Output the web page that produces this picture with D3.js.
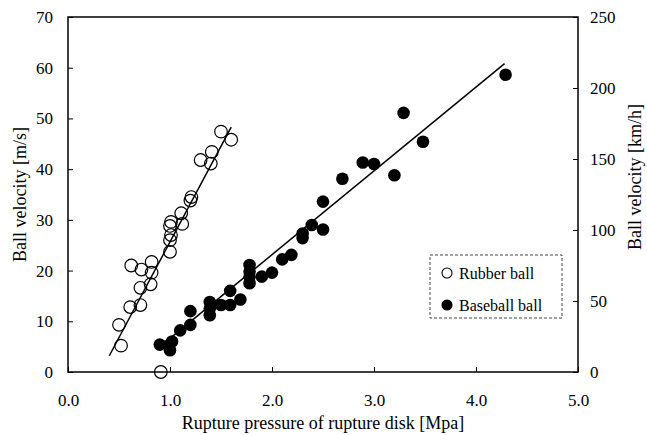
<!DOCTYPE html>
<html>
<head>
<meta charset="utf-8">
<script src="https://cdn.jsdelivr.net/npm/d3@7"></script>
<style>
  body { margin: 0; background: #fff; }
  svg text { font-family: Liberation Serif; }
</style>
</head>
<body>
<svg></svg>
<script>
// rubber ball points [pressure MPa, velocity m/s]
let rubberX = [0.52, 0.50, 0.61, 0.71, 0.71, 0.81, 0.62, 0.72, 0.82, 0.82, 1.00, 1.00, 1.01, 1.00, 1.01, 1.11, 1.12, 1.20, 1.21, 1.30, 1.41, 1.40, 1.50, 1.60, 0.91]
let rubberY = [5.2, 9.3, 12.8, 13.2, 16.6, 17.3, 21.0, 20.2, 21.7, 19.6, 23.7, 26.0, 27.0, 28.8, 29.6, 31.3, 29.2, 33.8, 34.5, 41.8, 43.4, 41.1, 47.4, 45.8, 0]

// baseball ball points
let baseX = [0.90, 0.99, 1.00, 1.02, 1.10, 1.20, 1.20, 1.39, 1.39, 1.39, 1.50, 1.59, 1.59, 1.69, 1.78, 1.78, 1.78, 1.78, 1.90, 2.00, 2.10, 2.19, 2.30, 2.30, 2.39, 2.50, 2.50, 2.69, 2.89, 3.00, 3.20, 3.29, 3.48, 4.29]
let baseY = [5.4, 5.3, 4.3, 6.0, 8.2, 9.3, 12.0, 13.8, 12.5, 11.2, 13.2, 13.2, 16.0, 14.3, 21.1, 19.8, 18.8, 17.5, 18.8, 19.6, 22.2, 23.1, 26.4, 27.3, 29.0, 28.1, 33.6, 38.1, 41.3, 41.0, 38.8, 51.1, 45.4, 58.6]

// fitted lines, read as end points
let rubberFitX = [0.405, 1.60]
let rubberFitY = [3.2, 48.3]
let baseFitX = [0.92, 4.28]
let baseFitY = [5.3, 60.8]

let xTicks = [0, 1, 2, 3, 4, 5]
let leftTicks = [0, 10, 20, 30, 40, 50, 60, 70]
let rightTicks = [0, 50, 100, 150, 200, 250]

let width = 647
let height = 435
let padLeft = 68
let padRight = 578
let padTop = 17
let padBottom = 372
let serif = 'Liberation Serif'

let svg = d3.select('svg').attr('width', width).attr('height', height)

let xScale = d3.scaleLinear().domain([0, 5]).range([padLeft, padRight])
let yScale = d3.scaleLinear().domain([0, 70]).range([padBottom, padTop])
let y2Scale = d3.scaleLinear().domain([0, 250]).range([padBottom, padTop])

// frame
svg.append('rect')
   .attr('x', padLeft).attr('y', padTop)
   .attr('width', padRight - padLeft).attr('height', padBottom - padTop)
   .attr('fill', 'none').attr('stroke', '#000').attr('stroke-width', 1.5)

let styleAxis = (g) => {
    g.attr('font-family', serif)
    g.select('.domain').remove()
    g.selectAll('line').attr('stroke', '#000').attr('stroke-width', 1)
    g.selectAll('text').attr('font-size', 17).attr('fill', '#000')
}

svg.append('g')
   .attr('transform', 'translate(0,' + padBottom + ')')
   .call(d3.axisBottom(xScale).tickValues(xTicks).tickFormat(d3.format('.1f')).tickSize(-5).tickPadding(22))
   .call(styleAxis)

svg.append('g')
   .attr('transform', 'translate(' + padLeft + ',0)')
   .call(d3.axisLeft(yScale).tickValues(leftTicks).tickSize(-5).tickPadding(15))
   .call(styleAxis)

svg.append('g')
   .attr('transform', 'translate(' + padRight + ',0)')
   .call(d3.axisRight(y2Scale).tickValues(rightTicks).tickSize(-5).tickPadding(12))
   .call(styleAxis)

// axis titles
svg.append('text')
   .attr('x', (padLeft + padRight) / 2).attr('y', 429)
   .attr('text-anchor', 'middle').attr('font-size', 18).attr('font-family', serif)
   .text('Rupture pressure of rupture disk [Mpa]')

svg.append('text')
   .attr('transform', 'translate(26,' + ((padTop + padBottom) / 2) + ') rotate(-90)')
   .attr('text-anchor', 'middle').attr('font-size', 18).attr('font-family', serif)
   .text('Ball velocity [m/s]')

svg.append('text')
   .attr('transform', 'translate(641,177) rotate(-90)')
   .attr('text-anchor', 'middle').attr('font-size', 18).attr('font-family', serif)
   .text('Ball velocity [km/h]')

// fit lines
let line = d3.line().x(d => xScale(d[0])).y(d => yScale(d[1]))
svg.append('path')
   .attr('d', line(d3.zip(rubberFitX, rubberFitY)))
   .attr('fill', 'none').attr('stroke', '#000').attr('stroke-width', 1.5)
svg.append('path')
   .attr('d', line(d3.zip(baseFitX, baseFitY)))
   .attr('fill', 'none').attr('stroke', '#000').attr('stroke-width', 1.5)

// points
svg.append('g').selectAll('circle')
   .data(d3.zip(rubberX, rubberY))
   .enter().append('circle')
   .attr('cx', d => xScale(d[0])).attr('cy', d => yScale(d[1]))
   .attr('r', 6.3)
   .attr('fill', 'none').attr('stroke', '#000').attr('stroke-width', 1.2)

svg.append('g').selectAll('circle')
   .data(d3.zip(baseX, baseY))
   .enter().append('circle')
   .attr('cx', d => xScale(d[0])).attr('cy', d => yScale(d[1]))
   .attr('r', 6.3)
   .attr('fill', '#000')

// legend
let legend = svg.append('g')
legend.append('rect')
      .attr('x', 430).attr('y', 255).attr('width', 132).attr('height', 63)
      .attr('fill', '#fff').attr('stroke', '#444').attr('stroke-width', 1)
      .attr('stroke-dasharray', '3,2')
let legendItems = [['Rubber ball', false, 273], ['Baseball ball', true, 305]]
legendItems.forEach(item => {
    legend.append('circle')
          .attr('cx', 447).attr('cy', item[2])
          .attr('r', 5)
          .attr('fill', item[1] ? '#000' : '#fff')
          .attr('stroke', '#000').attr('stroke-width', 1.1)
    legend.append('text')
          .attr('x', 459).attr('y', item[2] + 5.5)
          .attr('font-size', 16).attr('font-family', serif)
          .text(item[0])
})
</script>
</body>
</html>
